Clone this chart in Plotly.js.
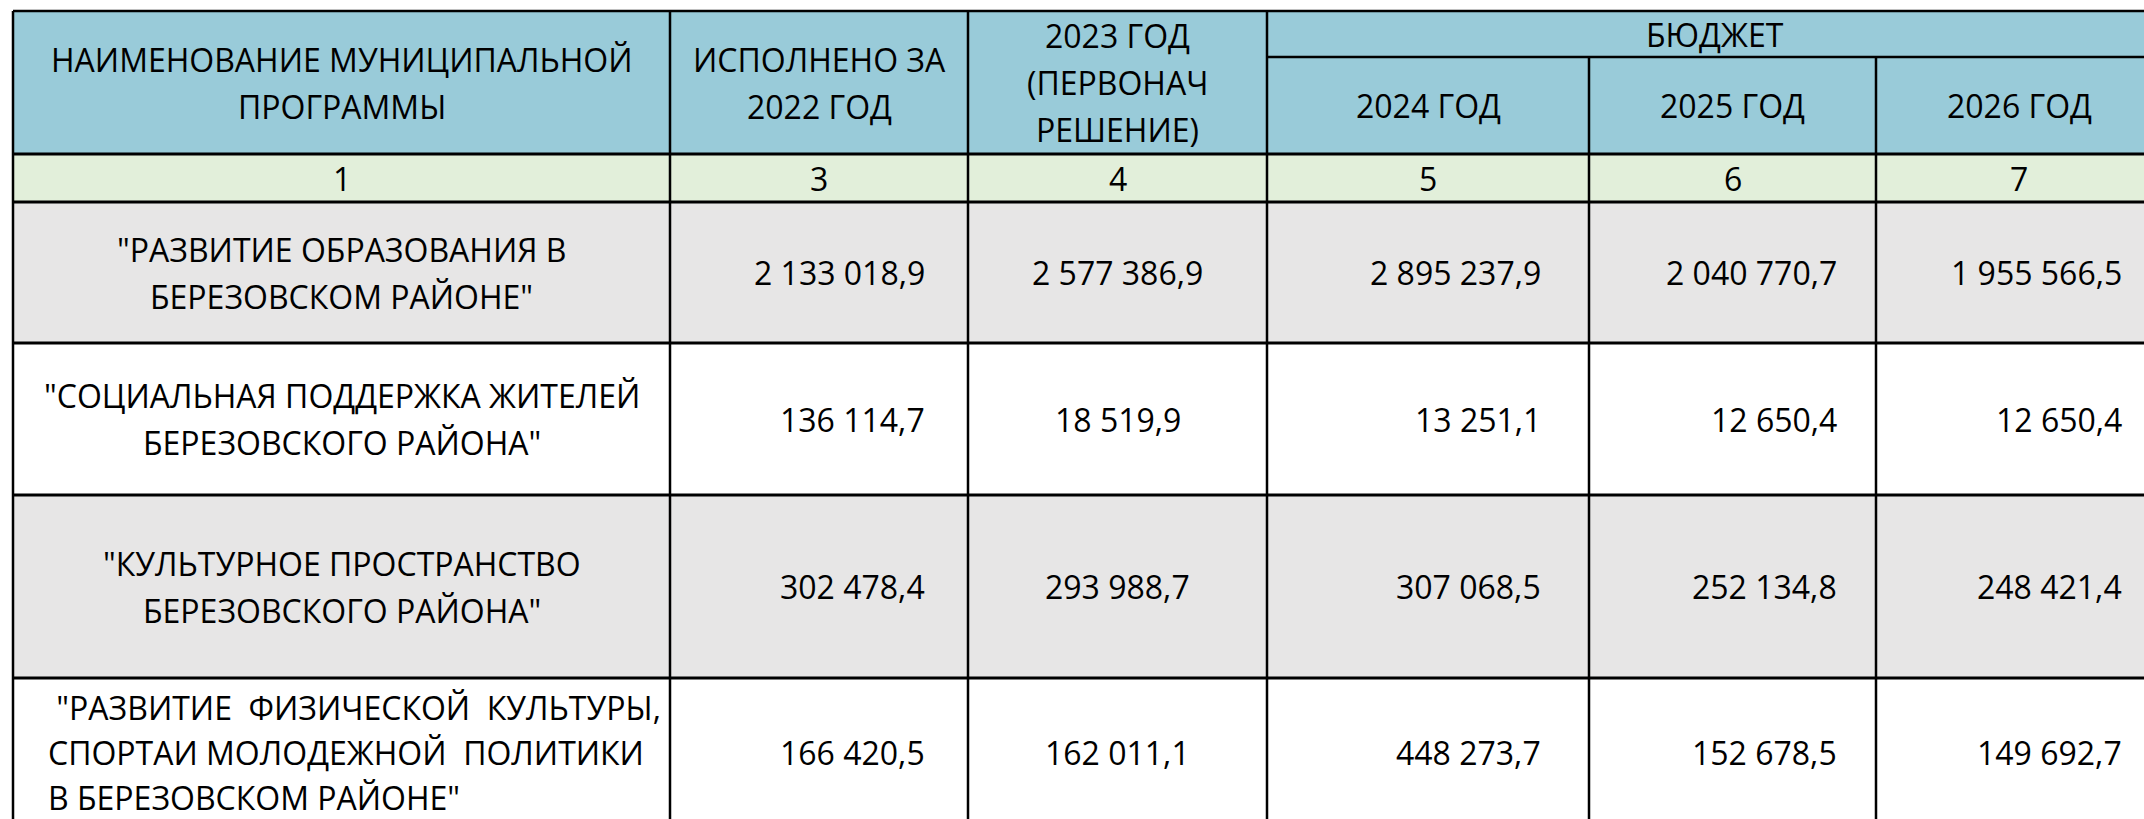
<!DOCTYPE html>
<html><head><meta charset="utf-8">
<script src="https://cdn.plot.ly/plotly-3.0.1.min.js"></script>
<style>html,body{margin:0;padding:0;background:#fff;overflow:hidden}</style>
</head><body>
<div id="chart" style="width:2144px;height:819px"></div>
<script>
// ---------- DATA ----------
const headerTitles = [
  "НАИМЕНОВАНИЕ МУНИЦИПАЛЬНОЙ\nПРОГРАММЫ",
  "ИСПОЛНЕНО ЗА\n2022 ГОД",
  "2023 ГОД\n(ПЕРВОНАЧ\nРЕШЕНИЕ)",
  "2024 ГОД",
  "2025 ГОД",
  "2026 ГОД"
];
const groupTitle = "БЮДЖЕТ";
const columnNumbers = ["1", "3", "4", "5", "6", "7"];
const programNames = [
  "\"РАЗВИТИЕ ОБРАЗОВАНИЯ В\nБЕРЕЗОВСКОМ РАЙОНЕ\"",
  "\"СОЦИАЛЬНАЯ ПОДДЕРЖКА ЖИТЕЛЕЙ\nБЕРЕЗОВСКОГО РАЙОНА\"",
  "\"КУЛЬТУРНОЕ ПРОСТРАНСТВО\nБЕРЕЗОВСКОГО РАЙОНА\"",
  " \"РАЗВИТИЕ  ФИЗИЧЕСКОЙ  КУЛЬТУРЫ,\nСПОРТАИ МОЛОДЕЖНОЙ  ПОЛИТИКИ\nВ БЕРЕЗОВСКОМ РАЙОНЕ\""
];
const executed2022 = ["2 133 018,9", "136 114,7", "302 478,4", "166 420,5"];
const initial2023  = ["2 577 386,9", "18 519,9", "293 988,7", "162 011,1"];
const budget2024   = ["2 895 237,9", "13 251,1", "307 068,5", "448 273,7"];
const budget2025   = ["2 040 770,7", "12 650,4", "252 134,8", "152 678,5"];
const budget2026   = ["1 955 566,5", "12 650,4", "248 421,4", "149 692,7"];

// ---------- LAYOUT / STYLE ----------
const W = 2144, H = 819;
const colEdges = [13, 670, 968, 1267, 1589, 1876, 2162];
const topY = 11, groupSplitY = 57, headerBottom = 154, numBottom = 202;
const rowBottoms = [343, 495, 678, 860];
const lineGap = 47;
const lastRowGap = 45;
const lastRowCenterOffset = 74; // text centre below top of the last (partly visible) row
const FONT = {family: "Open Sans, Noto Sans, sans-serif", size: 32, color: "#000"};
const headerFill = "#99CBD9", numFill = "#E2EFDA", grayFill = "#E7E6E6", whiteFill = "#FFFFFF";
const borderColor = "#000";
// per-value-column alignment: right padding or centered
const valueAlign = [{pad: 42}, {center: true}, {pad: 47}, {pad: 38}, {pad: 39}];
const nameAlign = ["center", "center", "center", "left"];
const nameLeftPad = 34;

const valueCols = [executed2022, initial2023, budget2024, budget2025, budget2026];

const shapes = [], annotations = [];
function rect(x0, y0, x1, y1, fill) {
  shapes.push({type: "rect", xref: "x", yref: "y", x0, y0, x1, y1, fillcolor: fill, line: {width: 0}, layer: "below"});
}
function line(x0, y0, x1, y1, w) {
  shapes.push({type: "line", xref: "x", yref: "y", x0, y0, x1, y1, line: {color: borderColor, width: w || 2}});
}
function textLines(txt, x, yc, anchor, gap) {
  const g = gap || lineGap;
  const lines = txt.split("\n");
  const n = lines.length;
  lines.forEach((ln, i) => {
    annotations.push({
      xref: "x", yref: "y", x: x, y: yc + (i - (n - 1) / 2) * g,
      text: ln.replace(/ {2}/g, "\u00A0\u00A0").replace(/^ /, "\u00A0"),
      showarrow: false, xanchor: anchor || "center", yanchor: "middle",
      font: FONT, borderpad: 0
    });
  });
}

const L = colEdges[0], R = colEdges[colEdges.length - 1];
// backgrounds
rect(L, topY, R, headerBottom, headerFill);
rect(L, headerBottom, R, numBottom, numFill);
let prev = numBottom;
rowBottoms.forEach((b, i) => { rect(L, prev, R, b, i % 2 === 0 ? grayFill : whiteFill); prev = b; });

// horizontal borders
line(L, topY, R, topY, 2.5);
line(colEdges[3], groupSplitY, R, groupSplitY, 2.5);
line(L, headerBottom, R, headerBottom, 3);
line(L, numBottom, R, numBottom, 3);
rowBottoms.forEach(b => line(L, b, R, b, 3));
// vertical borders
const tableBottom = rowBottoms[rowBottoms.length - 1];
colEdges.forEach((x, i) => {
  const startY = (i === 4 || i === 5) ? groupSplitY : topY;
  line(x, startY, x, tableBottom, 2.5);
});

// header text
headerTitles.forEach((t, i) => {
  const xc = (colEdges[i] + colEdges[i + 1]) / 2;
  const yc = i >= 3 ? (groupSplitY + headerBottom) / 2 : (topY + headerBottom) / 2;
  textLines(t, xc, yc);
});
textLines(groupTitle, (colEdges[3] + colEdges[6]) / 2, (topY + groupSplitY) / 2);
columnNumbers.forEach((t, i) => {
  textLines(t, (colEdges[i] + colEdges[i + 1]) / 2, (headerBottom + numBottom) / 2);
});

// body
prev = numBottom;
rowBottoms.forEach((b, r) => {
  const isLast = r === rowBottoms.length - 1;
  const rowYc = isLast ? prev + lastRowCenterOffset : (prev + b) / 2;
  const gap = isLast ? lastRowGap : lineGap;
  if (nameAlign[r] === "left") textLines(programNames[r], colEdges[0] + nameLeftPad, rowYc, "left", gap);
  else textLines(programNames[r], (colEdges[0] + colEdges[1]) / 2, rowYc, "center", gap);
  valueCols.forEach((col, c) => {
    const a = valueAlign[c];
    if (a.center) textLines(col[r], (colEdges[c + 1] + colEdges[c + 2]) / 2, rowYc);
    else textLines(col[r], colEdges[c + 2] - a.pad, rowYc, "right");
  });
  prev = b;
});

const layout = {
  width: W, height: H,
  margin: {l: 0, r: 0, t: 0, b: 0, pad: 0},
  paper_bgcolor: "#fff", plot_bgcolor: "#fff",
  xaxis: {range: [0, W], visible: false, fixedrange: true},
  yaxis: {range: [H, 0], visible: false, fixedrange: true},
  showlegend: false,
  shapes, annotations
};
Plotly.newPlot("chart", [{x: [], y: [], type: "scatter", mode: "markers", hoverinfo: "skip"}], layout, {displayModeBar: false, staticPlot: true});
</script>
</body></html>
